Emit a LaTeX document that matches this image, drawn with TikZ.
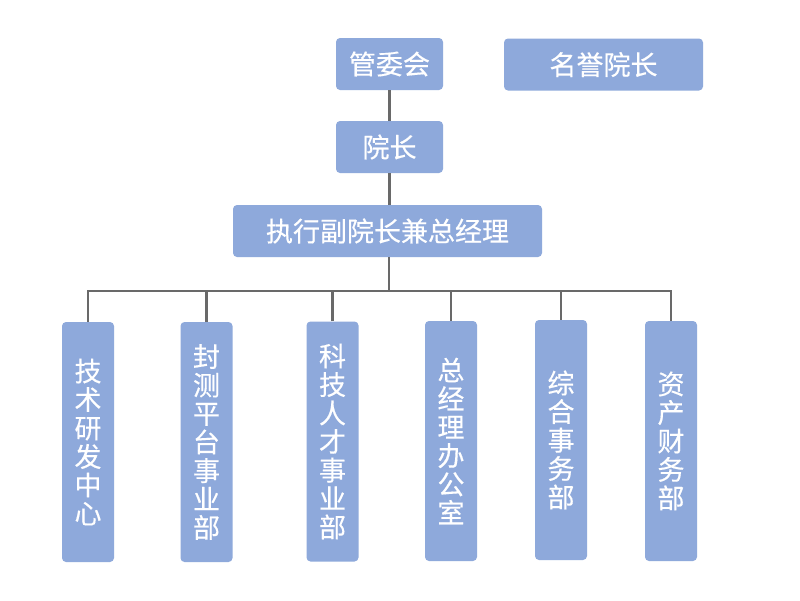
\documentclass[tikz,border=0pt]{standalone}
\usepackage{fontspec}
\newfontfamily\cjk[FakeBold=0.4]{Noto Sans CJK SC}
\definecolor{boxblue}{RGB}{142,169,219}
\definecolor{linegray}{RGB}{105,105,105}
\begin{document}
\begin{tikzpicture}[x=1pt,y=-1pt,
  box/.style={fill=boxblue, rounded corners=4pt, text=white, inner sep=0pt, align=center,
    font=\cjk\fontsize{27}{28.5}\selectfont},
  topbox/.style={box, minimum height=52pt},
  deptbox/.style={box, minimum width=52pt, minimum height=240pt},
  conn/.style={draw=linegray, line width=2.2pt}]
\useasboundingbox[fill=white] (0,0) rectangle (800,600);
\coordinate (bus) at (389,291);
\node[topbox, minimum width=107pt] (gwh) at (389.5,64) {管委会};
\node[topbox, minimum width=199pt] (myz) at (603.5,64.5) {名誉院长};
\node[topbox, minimum width=107pt] (yz) at (389.5,147) {院长};
\node[topbox, minimum width=309pt] (zx) at (387.5,231) {执行副院长兼总经理};
\node[deptbox] (d1) at (88,442) {技\\术\\研\\发\\中\\心};
\node[deptbox] (d2) at (206.5,442) {封\\测\\平\\台\\事\\业\\部};
\node[deptbox] (d3) at (332.5,441.5) {科\\技\\人\\才\\事\\业\\部};
\node[deptbox] (d4) at (451,441) {总\\经\\理\\办\\公\\室};
\node[deptbox] (d5) at (561,440) {综\\合\\事\\务\\部};
\node[deptbox] (d6) at (671,441) {资\\产\\财\\务\\部};
\draw[conn] (gwh) -- (yz);
\draw[conn] (yz.south) -- (yz.south |- zx.north);
\draw[conn] (zx.south -| bus) -- (bus);
\draw[conn] (d1.north) |- (bus) -| (d6.north);
\foreach \d in {d2,d3,d4,d5} \draw[conn] (\d.north) -- (\d.north |- bus);
\end{tikzpicture}
\end{document}
